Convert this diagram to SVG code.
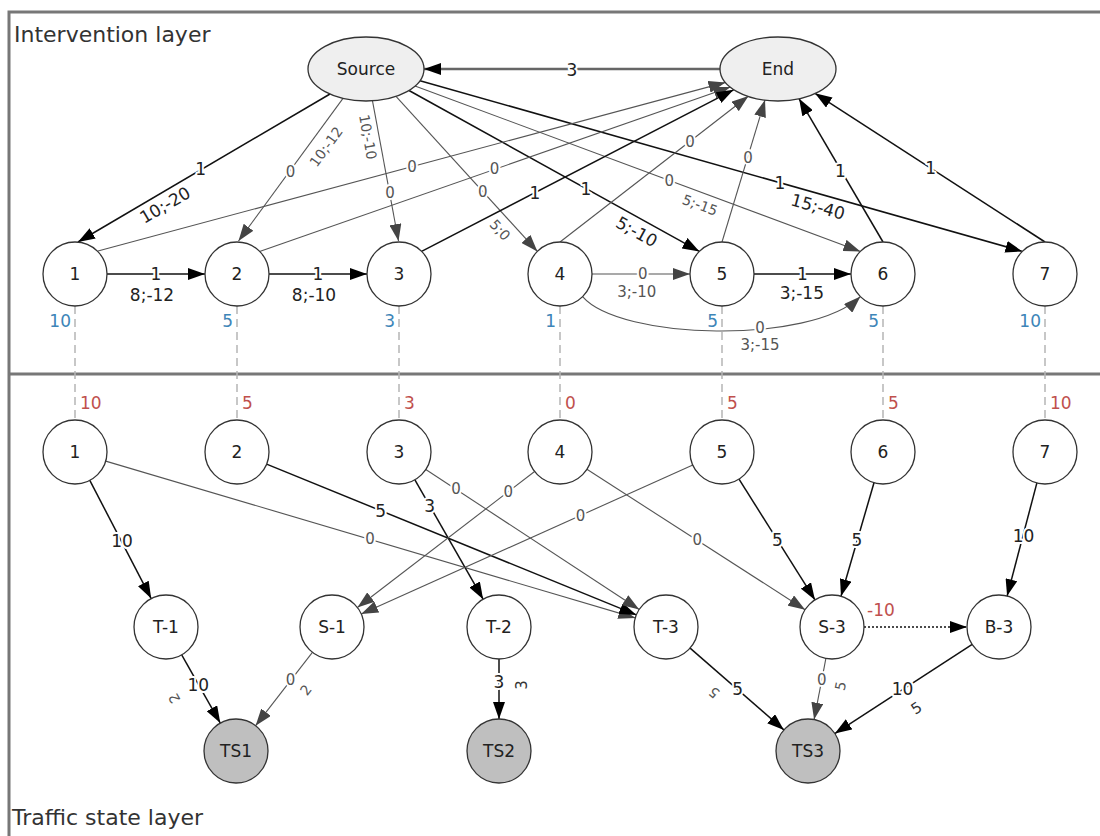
<svg xmlns="http://www.w3.org/2000/svg" width="1100" height="836" viewBox="0 0 1100 836">
<style>
text{font-family:"DejaVu Sans","Liberation Sans",sans-serif;font-size:17px;fill:#222}
.nd{fill:#fff;stroke:#333;stroke-width:1.3}
.ts{fill:#bfbfbf;stroke:#333;stroke-width:1.3}
.el{fill:#efefef;stroke:#333;stroke-width:1.3}
.nl{text-anchor:middle;dominant-baseline:central}
.k{stroke:#111;stroke-width:1.5;fill:none}
.g{stroke:#555;stroke-width:1.1;fill:none}
.lb{text-anchor:middle;dominant-baseline:central;paint-order:stroke;stroke:#fff;stroke-width:4px;stroke-linejoin:round}
.lg{fill:#555;font-size:15px}
.rt{text-anchor:middle;dominant-baseline:central}
.rg{fill:#555;font-size:14px}
.blue{fill:#3d85b8;text-anchor:end;dominant-baseline:central}
.red{fill:#c0504d;dominant-baseline:central}
.dash{stroke:#b5b5b5;stroke-width:1.5;stroke-dasharray:8 5}
.frame{stroke:#777;stroke-width:3;fill:none}
.title{font-size:22px;fill:#333}
</style>
<defs>
<marker id="ak" viewBox="0 0 17 12" refX="17" refY="6" markerWidth="17" markerHeight="12" orient="auto" markerUnits="userSpaceOnUse"><path d="M0,0 L17,6 L0,12 z" fill="#000"/></marker>
<marker id="ag" viewBox="0 0 17 12" refX="17" refY="6" markerWidth="17" markerHeight="12" orient="auto" markerUnits="userSpaceOnUse"><path d="M0,0 L17,6 L0,12 z" fill="#444"/></marker>
</defs>
<rect width="1100" height="836" fill="#fff"/>
<g id="frame">
<path class="frame" d="M9,836 V12 H1100"/>
<line class="frame" x1="9" y1="374" x2="1100" y2="374"/>
<text class="title" x="14" y="42">Intervention layer</text>
<text class="title" x="12" y="825">Traffic state layer</text>
</g>
<g id="links">
<line class="dash" x1="75" y1="306" x2="75" y2="420"/>
<line class="dash" x1="237" y1="306" x2="237" y2="420"/>
<line class="dash" x1="399" y1="306" x2="399" y2="420"/>
<line class="dash" x1="560" y1="306" x2="560" y2="420"/>
<line class="dash" x1="722" y1="306" x2="722" y2="420"/>
<line class="dash" x1="883" y1="306" x2="883" y2="420"/>
<line class="dash" x1="1045" y1="306" x2="1045" y2="420"/>
<text class="blue" x="71" y="321">10</text>
<text class="blue" x="233" y="321">5</text>
<text class="blue" x="395" y="321">3</text>
<text class="blue" x="556" y="321">1</text>
<text class="blue" x="718" y="321">5</text>
<text class="blue" x="879" y="321">5</text>
<text class="blue" x="1041" y="321">10</text>
<text class="red" x="80" y="403">10</text>
<text class="red" x="242" y="403">5</text>
<text class="red" x="404" y="403">3</text>
<text class="red" x="565" y="403">0</text>
<text class="red" x="727" y="403">5</text>
<text class="red" x="888" y="403">5</text>
<text class="red" x="1050" y="403">10</text>
</g>
<g id="connectors">
<line x1="720" y1="69" x2="424" y2="69" stroke="#666" stroke-width="2.5" marker-end="url(#ak)"/>
<path class="k" d="M330,94 L78,242" marker-end="url(#ak)"/>
<path class="g" d="M343,98.4 L238.5,241" marker-end="url(#ag)"/>
<path class="g" d="M372.5,100.8 L398.5,241" marker-end="url(#ag)"/>
<path class="g" d="M396,96.4 L537.4,251.4" marker-end="url(#ag)"/>
<path class="k" d="M409,90.5 L699.4,251.4" marker-end="url(#ak)"/>
<path class="g" d="M415,86 L860.4,251.4" marker-end="url(#ag)"/>
<path class="k" d="M420,80.7 L1022.4,251.4" marker-end="url(#ak)"/>
<path class="g" d="M98,251 L725.5,82.4" marker-end="url(#ag)"/>
<path class="g" d="M259.6,251.4 L730.4,87" marker-end="url(#ag)"/>
<path class="k" d="M421.6,251.4 L733.6,89.8" marker-end="url(#ak)"/>
<path class="g" d="M560,242 L748.5,96" marker-end="url(#ag)"/>
<path class="g" d="M722,242 L765,100" marker-end="url(#ag)"/>
<path class="k" d="M883,242 L799,98.6" marker-end="url(#ak)"/>
<path class="k" d="M1045,242 L815,93.3" marker-end="url(#ak)"/>
<path class="k" d="M107,274 L205,274" marker-end="url(#ak)"/>
<path class="k" d="M269,274 L367,274" marker-end="url(#ak)"/>
<path class="g" d="M592,274 L690,274" marker-end="url(#ag)"/>
<path class="k" d="M754,274 L851,274" marker-end="url(#ak)"/>
<path class="g" d="M582.6,296.6 C620,340 810,345 860.4,296.6" marker-end="url(#ag)"/>
<path class="k" d="M89.8,480.4 L151.2,598.6" marker-end="url(#ak)"/>
<path class="g" d="M105.7,461.1 L635.3,617.9" marker-end="url(#ag)"/>
<path class="k" d="M266.6,464.1 L636.4,614.9" marker-end="url(#ak)"/>
<path class="k" d="M414.9,479.8 L483.1,599.2" marker-end="url(#ak)"/>
<path class="g" d="M425.8,469.5 L639.2,609.5" marker-end="url(#ag)"/>
<path class="g" d="M534.6,471.5 L357.4,607.5" marker-end="url(#ag)"/>
<path class="g" d="M692.8,465.1 L361.2,613.9" marker-end="url(#ag)"/>
<path class="g" d="M586.9,469.3 L805.1,609.7" marker-end="url(#ag)"/>
<path class="k" d="M739,479.1 L815,599.9" marker-end="url(#ak)"/>
<path class="k" d="M874,482.7 L841,596.3" marker-end="url(#ak)"/>
<path class="k" d="M1036.9,482.9 L1007.1,596.1" marker-end="url(#ak)"/>
<path d="M864,627 L967,627" stroke="#111" stroke-width="1.6" stroke-dasharray="2 2" fill="none" marker-end="url(#ak)"/>
<path class="k" d="M181.7,654.9 L220.3,723.1" marker-end="url(#ak)"/>
<path class="g" d="M312.4,652.3 L255.6,725.7" marker-end="url(#ag)"/>
<path class="k" d="M499,659 L499,719" marker-end="url(#ak)"/>
<path class="k" d="M690.1,648.1 L783.9,729.9" marker-end="url(#ak)"/>
<path class="g" d="M825.9,658.4 L814.1,719.6" marker-end="url(#ag)"/>
<path class="k" d="M972.2,644.4 L834.8,733.6" marker-end="url(#ak)"/>
</g>
<g id="labels">
<text class="lb" x="572" y="70">3</text>
<text class="lb" x="200.6" y="169">1</text>
<text class="rt" transform="translate(165,205) rotate(-30.4)">10;-20</text>
<text class="lb lg" x="290.4" y="171.7">0</text>
<text class="rt rg" transform="translate(326,146.7) rotate(-54)">10;-12</text>
<text class="lb lg" x="390" y="192.7">0</text>
<text class="rt rg" transform="translate(368,137) rotate(79.4)">10;-10</text>
<text class="lb lg" x="482.7" y="192">0</text>
<text class="rt rg" transform="translate(500,230) rotate(47.6)">5;0</text>
<text class="lb" x="586" y="188.5">1</text>
<text class="rt" transform="translate(636.7,231.7) rotate(28.6)">5;-10</text>
<text class="lb lg" x="669.3" y="180.5">0</text>
<text class="rt rg" transform="translate(700,205) rotate(20)">5;-15</text>
<text class="lb" x="780" y="182.8">1</text>
<text class="rt" transform="translate(818,206.7) rotate(15.5)">15;-40</text>
<text class="lb lg" x="412" y="166.7">0</text>
<text class="lb lg" x="494.6" y="169.3">0</text>
<text class="lb" x="535" y="192.7">1</text>
<text class="lb lg" x="690" y="141.7">0</text>
<text class="lb lg" x="748" y="158">0</text>
<text class="lb" x="840.4" y="171">1</text>
<text class="lb" x="930.6" y="168">1</text>
<text class="lb" x="156" y="273.5">1</text>
<text class="rt" x="152" y="295">8;-12</text>
<text class="lb" x="318" y="273.5">1</text>
<text class="rt" x="314" y="295">8;-10</text>
<text class="lb lg" x="642.7" y="273.5">0</text>
<text class="rt lg" x="636.7" y="291.7">3;-10</text>
<text class="lb" x="802.5" y="273.5">1</text>
<text class="rt" x="801.8" y="293.3">3;-15</text>
<text class="lb lg" x="760" y="328">0</text>
<text class="rt lg" x="760" y="345">3;-15</text>
<text class="lb" x="122" y="540.5">10</text>
<text class="lb lg" x="370" y="539.3">0</text>
<text class="lb" x="380.6" y="510.5">5</text>
<text class="lb" x="429.7" y="506">3</text>
<text class="lb lg" x="456" y="489.4">0</text>
<text class="lb lg" x="508.3" y="491.5">0</text>
<text class="lb lg" x="580.5" y="515.5">0</text>
<text class="lb lg" x="697.3" y="539.5">0</text>
<text class="lb" x="777.3" y="540">5</text>
<text class="lb" x="857" y="540">5</text>
<text class="lb" x="1023.5" y="536">10</text>
<text class="red" x="867" y="610">-10</text>
<text class="lb" x="198.2" y="684.5">10</text>
<text class="rt rg" transform="translate(174.3,698.3) rotate(-119.4)">2</text>
<text class="lb lg" x="290.4" y="680">0</text>
<text class="rt rg" transform="translate(305.9,690) rotate(-52.2)">2</text>
<text class="lb" x="499" y="682">3</text>
<text class="rt" style="fill:#333;font-size:15px" transform="translate(522,685) rotate(-90)">3</text>
<text class="lb" x="737.7" y="689">5</text>
<text class="rt rg" transform="translate(714,692.7) rotate(-138.9)">5</text>
<text class="lb lg" x="821.8" y="680">0</text>
<text class="rt rg" transform="translate(840.4,686) rotate(-79)">5</text>
<text class="lb" x="902.5" y="689">10</text>
<text class="rt" style="fill:#333;font-size:15px" transform="translate(916.5,708.3) rotate(-33)">5</text>
</g>
<g id="n-source"><ellipse class="el" cx="366" cy="69" rx="58" ry="32"/><text class="nl" x="366" y="69">Source</text></g>
<g id="n-end"><ellipse class="el" cx="778" cy="69" rx="58" ry="32"/><text class="nl" x="778" y="69">End</text></g>
<g id="i1"><circle class="nd" cx="75" cy="274" r="32"/><text class="nl" x="75" y="274">1</text></g>
<g id="i2"><circle class="nd" cx="237" cy="274" r="32"/><text class="nl" x="237" y="274">2</text></g>
<g id="i3"><circle class="nd" cx="399" cy="274" r="32"/><text class="nl" x="399" y="274">3</text></g>
<g id="i4"><circle class="nd" cx="560" cy="274" r="32"/><text class="nl" x="560" y="274">4</text></g>
<g id="i5"><circle class="nd" cx="722" cy="274" r="32"/><text class="nl" x="722" y="274">5</text></g>
<g id="i6"><circle class="nd" cx="883" cy="274" r="32"/><text class="nl" x="883" y="274">6</text></g>
<g id="i7"><circle class="nd" cx="1045" cy="274" r="32"/><text class="nl" x="1045" y="274">7</text></g>
<g id="t1"><circle class="nd" cx="75" cy="452" r="32"/><text class="nl" x="75" y="452">1</text></g>
<g id="t2"><circle class="nd" cx="237" cy="452" r="32"/><text class="nl" x="237" y="452">2</text></g>
<g id="t3"><circle class="nd" cx="399" cy="452" r="32"/><text class="nl" x="399" y="452">3</text></g>
<g id="t4"><circle class="nd" cx="560" cy="452" r="32"/><text class="nl" x="560" y="452">4</text></g>
<g id="t5"><circle class="nd" cx="722" cy="452" r="32"/><text class="nl" x="722" y="452">5</text></g>
<g id="t6"><circle class="nd" cx="883" cy="452" r="32"/><text class="nl" x="883" y="452">6</text></g>
<g id="t7"><circle class="nd" cx="1045" cy="452" r="32"/><text class="nl" x="1045" y="452">7</text></g>
<g id="T-1"><circle class="nd" cx="166" cy="627" r="32"/><text class="nl" x="166" y="627">T-1</text></g>
<g id="S-1"><circle class="nd" cx="332" cy="627" r="32"/><text class="nl" x="332" y="627">S-1</text></g>
<g id="T-2"><circle class="nd" cx="499" cy="627" r="32"/><text class="nl" x="499" y="627">T-2</text></g>
<g id="T-3"><circle class="nd" cx="666" cy="627" r="32"/><text class="nl" x="666" y="627">T-3</text></g>
<g id="S-3"><circle class="nd" cx="832" cy="627" r="32"/><text class="nl" x="832" y="627">S-3</text></g>
<g id="B-3"><circle class="nd" cx="999" cy="627" r="32"/><text class="nl" x="999" y="627">B-3</text></g>
<g id="TS1"><circle class="ts" cx="236" cy="751" r="32"/><text class="nl" x="236" y="751">TS1</text></g>
<g id="TS2"><circle class="ts" cx="499" cy="751" r="32"/><text class="nl" x="499" y="751">TS2</text></g>
<g id="TS3"><circle class="ts" cx="808" cy="751" r="32"/><text class="nl" x="808" y="751">TS3</text></g>
</svg>
